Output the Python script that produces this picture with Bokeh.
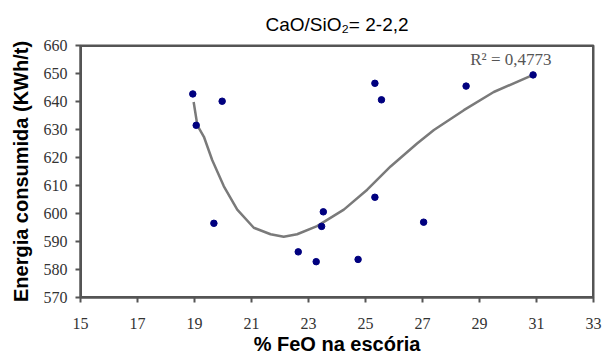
from bokeh.plotting import figure
from bokeh.models import Range1d, FixedTicker, Label
from bokeh.embed import file_html
from bokeh.resources import INLINE

# Data
feo = [18.94, 19.06, 19.97, 19.68, 22.64, 23.27, 23.52, 23.46, 24.74,
       25.33, 25.33, 25.56, 27.04, 28.53, 30.88]
energia = [642.7, 631.5, 640.1, 596.5, 586.3, 582.8, 600.6, 595.4, 583.6,
           605.8, 646.5, 640.6, 596.9, 645.5, 649.5]

# Trend line as drawn in the chart
trend_x = [18.97, 19.1, 19.33, 19.62, 20.03, 20.5, 21.08, 21.67, 22.13, 22.6,
           23.3, 24.24, 25.06, 25.88, 26.81, 27.4, 28.45, 29.5, 30.9]
trend_y = [639.8, 631.5, 627.4, 619.1, 609.7, 601.4, 594.9, 592.6, 591.7, 592.6,
           595.5, 601.4, 608.5, 616.8, 625.0, 629.8, 636.9, 643.4, 649.6]

x_ticks = [15, 17, 19, 21, 23, 25, 27, 29, 31, 33]
y_ticks = [570, 580, 590, 600, 610, 620, 630, 640, 650, 660]

xr = Range1d(15, 33)
yr = Range1d(570, 660)

p = figure(width=610, height=358, output_backend="svg", toolbar_location=None,
           x_range=xr, y_range=yr,
           min_border_left=80, min_border_right=17, min_border_top=43,
           min_border_bottom=61)
p.xgrid.visible = False
p.ygrid.visible = False
p.outline_line_color = "#555555"
p.outline_line_width = 2
p.background_fill_color = "white"
p.border_fill_color = "white"

# frame border drawn along the range limits
x0, x1, y0, y1 = xr.start, xr.end, yr.start, yr.end
p.line([x0, x1, x1, x0, x0], [y0, y0, y1, y1, y0],
       line_color="#555555", line_width=3)

p.line(trend_x, trend_y, line_color="#7a7a7a", line_width=2.5)
p.scatter(feo, energia, size=6.5, color="#00007f")

for ax in (p.xaxis[0], p.yaxis[0]):
    ax.axis_line_color = "#555555"
    ax.axis_line_width = 2
    ax.major_tick_line_color = "#555555"
    ax.major_tick_line_width = 2
    ax.major_tick_out = 5
    ax.major_tick_in = 0
    ax.minor_tick_line_color = None
    ax.major_label_text_font = "Liberation Serif"
    ax.major_label_text_font_size = "16px"
    ax.major_label_text_color = "#333333"
    ax.axis_label_text_font = "Liberation Sans"
    ax.axis_label_text_font_style = "bold"
    ax.axis_label_text_font_size = "20px"
    ax.axis_label_text_color = "black"

p.xaxis[0].ticker = FixedTicker(ticks=x_ticks)
p.yaxis[0].ticker = FixedTicker(ticks=y_ticks)
p.xaxis[0].axis_label = "% FeO na escória"
p.yaxis[0].axis_label = "Energia consumida (KWh/t)"
p.xaxis[0].major_label_standoff = 15
p.yaxis[0].major_label_standoff = 8
p.xaxis[0].axis_label_standoff = 1
p.yaxis[0].axis_label_standoff = 9

p.title.text = "CaO/SiO₂= 2-2,2"
p.title.align = "center"
p.title.offset = 14
p.title.standoff = 22
p.title.text_font = "Liberation Sans"
p.title.text_font_style = "normal"
p.title.text_font_size = "19px"
p.title.text_color = "black"

r2 = Label(x=30.1, y=655, text="R² = 0,4773", text_align="center",
           text_baseline="middle", text_font="Liberation Serif",
           text_font_size="17px", text_color="#555555")
p.add_layout(r2)

open("out.html", "w").write(file_html(p, INLINE))
